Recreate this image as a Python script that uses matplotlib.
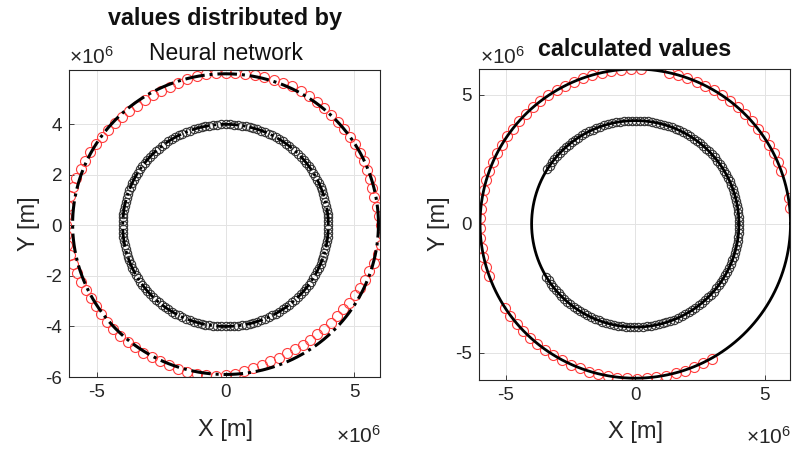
import numpy as np
import matplotlib.pyplot as plt

plt.rcParams['font.family'] = ['Liberation Sans', 'DejaVu Sans']
plt.rcParams['axes.unicode_minus'] = False
plt.rcParams['mathtext.fontset'] = 'custom'
plt.rcParams['mathtext.rm'] = 'Liberation Sans'

# all lengths in units of 1e6 m
inner_radius = 4.0
outer_radius = 6.0
outer_nn_radius = 5.95     # dash-dot reference circle, left panel
outer_nn_shift = 0.05      # its small vertical offset
outer_calc_radius = 5.99

# neural-network red markers: one radius every 3.6 deg, counter-clockwise from +x
nn_red_angles = np.arange(0, 360, 3.6)
nn_red_radius = [
    6.05, 6.00, 5.95, 5.90, 5.88, 5.90, 5.92, 5.95, 5.97, 5.98,
    5.98, 5.97, 5.98, 6.00, 6.02, 6.05, 6.07, 6.08, 6.08, 6.07,
    6.06, 6.05, 6.05, 6.05, 6.05,
    6.05, 6.04, 6.02, 6.00, 5.97, 5.94, 5.90, 5.88, 5.87, 5.86,
    5.86, 5.87, 5.88, 5.90, 5.92, 5.95, 5.98, 6.00, 6.03, 6.06,
    6.10, 6.13, 6.16, 6.18, 6.20,
    6.22, 6.22, 6.20, 6.17, 6.12, 6.08, 6.04, 6.00, 5.98, 5.97,
    5.97, 5.97, 5.98, 5.98, 5.98, 5.97, 5.96, 5.96, 5.95, 5.95,
    5.96, 5.97, 5.98, 5.98, 5.97,
    5.93, 5.88, 5.82, 5.75, 5.70, 5.66, 5.63, 5.60, 5.60, 5.60,
    5.60, 5.60, 5.62, 5.62, 5.64, 5.66, 5.70, 5.74, 5.78, 5.83,
    5.88, 5.95, 6.02, 6.08, 6.12,
]

inner_angles = np.arange(0, 360, 2.25)
# arcs (deg) where markers are shown in the "calculated values" panel
calc_inner_arcs = [(-149, 149)]
calc_red_arcs = [(6, 12), (20, 80), (88, 200), (213, 302)]
red_step = 3.6

line_angles = np.linspace(0, 2 * np.pi, 721)

RED = '#ff3b3b'
AX_COL = '#262626'


def style_axes(ax, xt, yt, xlim, ylim):
    ax.set_xlim(*xlim)
    ax.set_ylim(*ylim)
    ax.set_xticks(xt)
    ax.set_yticks(yt)
    ax.set_xticklabels([f'{v:g}' for v in xt])
    ax.set_yticklabels([f'{v:g}' for v in yt])
    ax.grid(True, color='#e3e3e3', linewidth=0.7)
    ax.set_axisbelow(True)
    ax.tick_params(direction='in', length=3.5, width=0.6, color=AX_COL,
                   labelsize=13.5, labelcolor='#262626', pad=5)
    for s in ax.spines.values():
        s.set_color(AX_COL)
        s.set_linewidth(0.8)


def px(x, y):
    return x / 793, 1 - y / 451


fig = plt.figure(figsize=(7.93, 4.51), dpi=100)
ax1 = fig.add_axes([69 / 793, 1 - 377 / 451, 311 / 793, 307 / 451])
ax2 = fig.add_axes([479 / 793, 1 - 380 / 451, 311 / 793, 311 / 451])

# ---- left: neural network ----
t = np.deg2rad(nn_red_angles)
r = np.array(nn_red_radius)
ax1.plot(r * np.cos(t), r * np.sin(t), 'o', mfc='none', mec=RED, ms=7.2, mew=0.8)
ti = np.deg2rad(inner_angles)
ax1.plot(inner_radius * np.cos(ti), inner_radius * np.sin(ti), 'o', mfc='none',
         mec='#333333', ms=6, mew=0.8)
ax1.plot(outer_nn_radius * np.cos(line_angles),
         outer_nn_radius * np.sin(line_angles) + outer_nn_shift,
         color='black', linestyle='-.', linewidth=2.2)
ax1.plot(inner_radius * np.cos(line_angles), inner_radius * np.sin(line_angles),
         color='black', linestyle='-.', linewidth=2)
style_axes(ax1, [-5, 0, 5], [-6, -4, -2, 0, 2, 4], (-6.09, 6.01), (-6.0, 6.15))

# ---- right: calculated ----
for a0, a1 in calc_red_arcs:
    ta = np.deg2rad(np.arange(a0, a1 + 0.01, red_step))
    ax2.plot(outer_radius * np.cos(ta), outer_radius * np.sin(ta), 'o', mfc='none',
             mec=RED, ms=7.2, mew=0.8)
for a0, a1 in calc_inner_arcs:
    ta = np.deg2rad(np.arange(a0, a1 + 0.01, 2.25))
    ax2.plot(inner_radius * np.cos(ta), inner_radius * np.sin(ta), 'o', mfc='none',
             mec='#333333', ms=6, mew=0.8)
ax2.plot(outer_calc_radius * np.cos(line_angles),
         outer_calc_radius * np.sin(line_angles) + 0.01,
         color='black', linewidth=2)
ax2.plot(inner_radius * np.cos(line_angles), inner_radius * np.sin(line_angles),
         color='black', linewidth=2)
style_axes(ax2, [-5, 0, 5], [-5, 0, 5], (-6.03, 5.97), (-6.05, 6.0))

# ---- text ----
fig.text(*px(225, 19), 'values distributed by', ha='center', va='center',
         fontsize=16.8, fontweight='bold', color='#111111')
fig.text(*px(226, 54), 'Neural network', ha='center', va='center',
         fontsize=16.5, color='#111111')
fig.text(*px(635, 50), 'calculated values', ha='center', va='center',
         fontsize=16.8, fontweight='bold', color='#111111')

off = r'$\mathregular{\times10^{6}}$'
fig.text(*px(69, 64), off, ha='left', va='baseline', fontsize=15, color='#262626')
fig.text(*px(480, 64), off, ha='left', va='baseline', fontsize=15, color='#262626')
fig.text(*px(381, 443), off, ha='right', va='baseline', fontsize=15, color='#262626')
fig.text(*px(791, 444), off, ha='right', va='baseline', fontsize=15, color='#262626')

fig.text(*px(225, 430), 'X [m]', ha='center', va='center', fontsize=17, color='#262626')
fig.text(*px(635, 432), 'X [m]', ha='center', va='center', fontsize=17, color='#262626')
fig.text(*px(29, 224), 'Y [m]', ha='center', va='center', rotation=90,
         fontsize=17, color='#262626')
fig.text(*px(439, 224), 'Y [m]', ha='center', va='center', rotation=90,
         fontsize=17, color='#262626')

fig.savefig('out.png', dpi=100)
